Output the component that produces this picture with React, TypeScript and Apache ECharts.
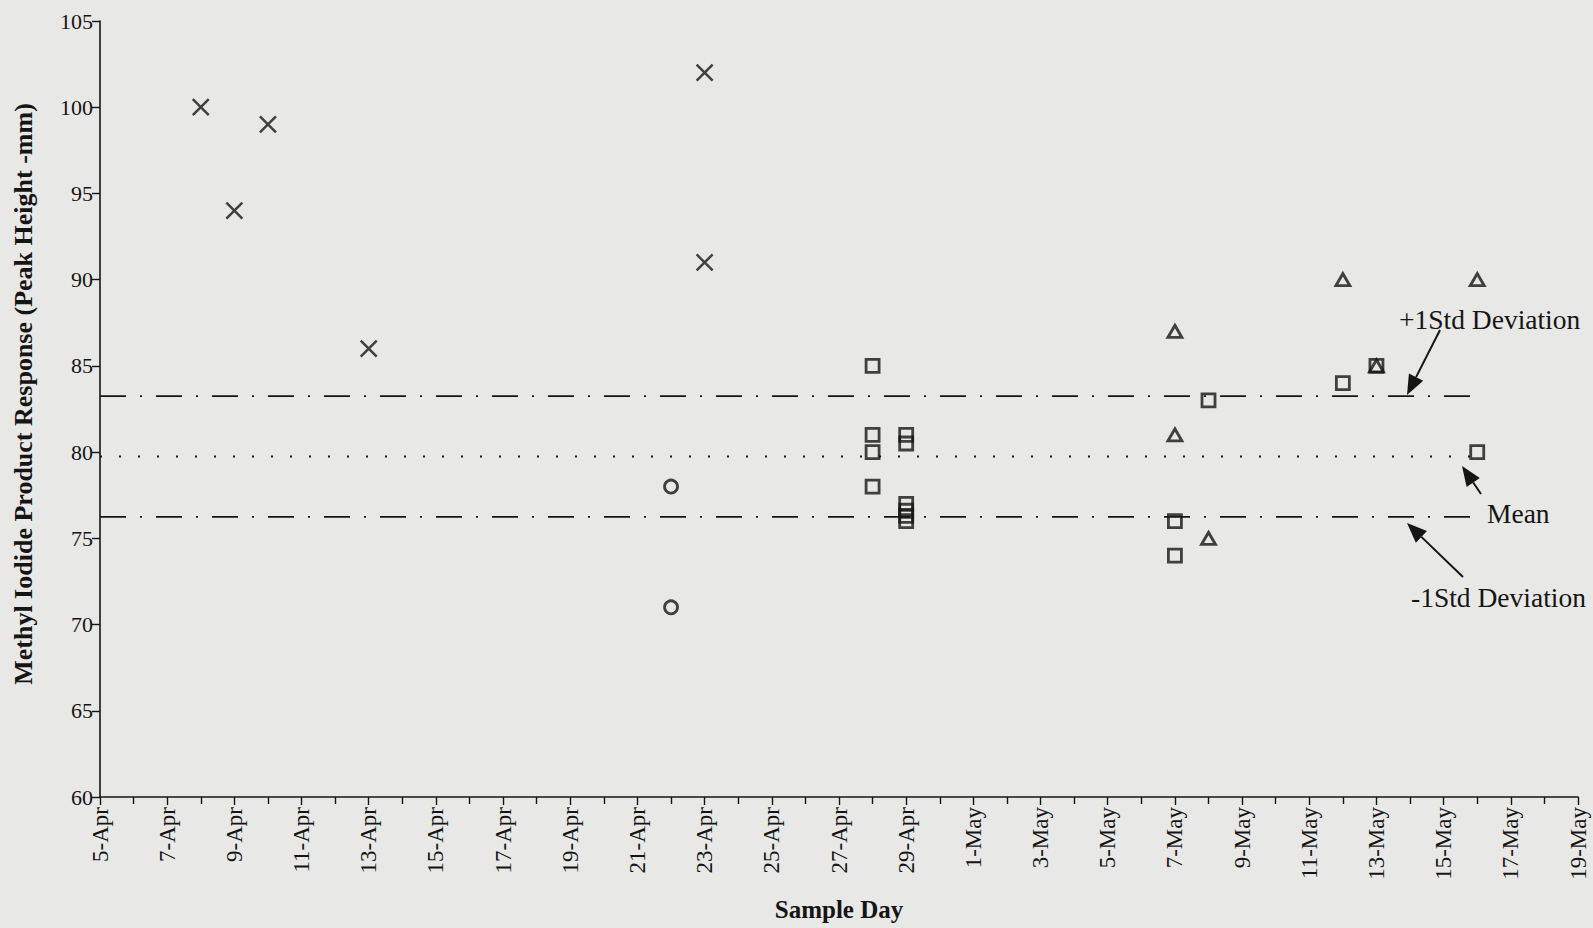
import React, { useEffect, useRef } from "react";
import * as echarts from "echarts";

// ---- Data ----
const xTickLabels = [
  "5-Apr", "7-Apr", "9-Apr", "11-Apr", "13-Apr", "15-Apr", "17-Apr", "19-Apr",
  "21-Apr", "23-Apr", "25-Apr", "27-Apr", "29-Apr", "1-May", "3-May", "5-May",
  "7-May", "9-May", "11-May", "13-May", "15-May", "17-May", "19-May",
];
const yMin = 60;
const yMax = 105;
const yStep = 5;

const crossDates = ["8-Apr", "9-Apr", "10-Apr", "13-Apr", "23-Apr", "23-Apr"];
const crossValues = [100, 94, 99, 86, 102, 91];

const circleDates = ["22-Apr", "22-Apr"];
const circleValues = [78, 71];

const squareDates = [
  "28-Apr", "28-Apr", "28-Apr", "28-Apr",
  "29-Apr", "29-Apr", "29-Apr", "29-Apr", "29-Apr", "29-Apr",
  "7-May", "7-May", "8-May", "12-May", "13-May", "16-May",
];
const squareValues = [85, 81, 80, 78, 81, 80.5, 77, 76.6, 76.3, 76, 76, 74, 83, 84, 85, 80];

const triangleDates = ["7-May", "7-May", "8-May", "12-May", "13-May", "16-May"];
const triangleValues = [87, 81, 75, 90, 85, 90];

const meanValue = 79.75;
const stdValue = 3.5;
const lineStart = "5-Apr";
const lineEnd = "16-May";

// ---- helpers ----
const dayOf = (s: string): number => {
  const [d, m] = s.split("-");
  const n = parseInt(d, 10);
  return m === "Apr" ? n - 5 : 26 + (n - 1);
};
const pts = (dates: string[], vals: number[]) => dates.map((d, i) => [dayOf(d), vals[i]]);

const INK = "#151515";
const FONT = "'Liberation Serif', 'Times New Roman', serif";

export default function App() {
  const ref = useRef<HTMLDivElement>(null);

  useEffect(() => {
    if (!ref.current) return;
    const chart = echarts.init(ref.current, undefined, { renderer: "svg" });

    const hLine = (y: number, dash: number[] | string, w: number) => ({
      type: "line",
      silent: true,
      symbol: "none",
      data: [[dayOf(lineStart), y], [dayOf(lineEnd), y]],
      lineStyle: { color: INK, width: w, type: dash },
      z: 1,
    });

    const markerStyle = { color: "rgba(0,0,0,0)", borderColor: INK, borderWidth: 2.8 };

    const arrow = (x1: number, y1: number, x2: number, y2: number) => {
      const ang = Math.atan2(y2 - y1, x2 - x1);
      const L = 20, W = 8;
      const bx = x2 - L * Math.cos(ang), by = y2 - L * Math.sin(ang);
      const px = -Math.sin(ang) * W, py = Math.cos(ang) * W;
      return [
        { type: "line", shape: { x1, y1, x2: bx, y2: by }, style: { stroke: INK, lineWidth: 2 } },
        {
          type: "polygon",
          shape: { points: [[x2, y2], [bx + px, by + py], [bx - px, by - py]] },
          style: { fill: INK },
        },
      ];
    };

    chart.setOption({
      animation: false,
      backgroundColor: "#e8e8e6",
      textStyle: { fontFamily: FONT, color: INK },
      grid: { left: 100, right: 15, top: 21, bottom: 131, containLabel: false, outerBoundsMode: "none" },
      xAxis: {
        type: "value",
        min: 0,
        max: 44,
        interval: 2,
        name: "Sample Day",
        nameLocation: "middle",
        nameGap: 100,
        nameTextStyle: { fontFamily: FONT, fontWeight: "bold", fontSize: 25, color: INK },
        axisLine: { show: true, lineStyle: { color: INK, width: 1.6 } },
        axisTick: { show: true, length: 8, lineStyle: { color: INK, width: 1.4 } },
        minorTick: { show: true, splitNumber: 2, length: 7, lineStyle: { color: INK, width: 1.4 } },
        splitLine: { show: false },
        axisLabel: {
          rotate: 90,
          margin: 10,
          fontFamily: FONT,
          fontSize: 23,
          color: INK,
          formatter: (v: number) => xTickLabels[Math.round(v / 2)] ?? "",
        },
      },
      yAxis: {
        type: "value",
        min: yMin,
        max: yMax,
        interval: yStep,
        name: "Methyl Iodide Product Response (Peak Height -mm)",
        nameLocation: "middle",
        nameGap: 64,
        nameTextStyle: { fontFamily: FONT, fontWeight: "bold", fontSize: 26, color: INK, padding: [0, 0, 0, 30] },
        axisLine: { show: true, lineStyle: { color: INK, width: 1.6 } },
        axisTick: { show: true, length: 8, lineStyle: { color: INK, width: 1.4 } },
        splitLine: { show: false },
        axisLabel: { fontFamily: FONT, fontSize: 22, color: INK, margin: 7 },
      },
      series: [
        hLine(meanValue + stdValue, [26, 14, 2, 14], 1.8),
        hLine(meanValue, [2, 17], 2),
        hLine(meanValue - stdValue, [26, 14, 2, 14], 1.8),
        {
          type: "scatter",
          silent: true,
          symbol: "path://M0,0L10,10M10,0L0,10",
          symbolSize: 16,
          data: pts(crossDates, crossValues),
          itemStyle: { ...markerStyle, borderWidth: 2.5 },
          z: 3,
        },
        {
          type: "scatter",
          silent: true,
          symbol: "circle",
          symbolSize: 13,
          data: pts(circleDates, circleValues),
          itemStyle: markerStyle,
          z: 3,
        },
        {
          type: "scatter",
          silent: true,
          symbol: "rect",
          symbolSize: 13,
          data: pts(squareDates, squareValues),
          itemStyle: markerStyle,
          z: 3,
        },
        {
          type: "scatter",
          silent: true,
          symbol: "triangle",
          symbolSize: [14, 12],
          data: pts(triangleDates, triangleValues),
          itemStyle: markerStyle,
          z: 4,
        },
      ],
      graphic: [
        ...arrow(1440, 330, 1407, 395),
        ...arrow(1481, 494, 1462, 466),
        ...arrow(1463, 577, 1407, 523),
        {
          type: "text",
          left: 1399,
          top: 305,
          style: { text: "+1Std Deviation", font: `27.5px ${FONT}`, fill: INK },
        },
        {
          type: "text",
          left: 1487,
          top: 499,
          style: { text: "Mean", font: `27.5px ${FONT}`, fill: INK },
        },
        {
          type: "text",
          left: 1411,
          top: 583,
          style: { text: "-1Std Deviation", font: `27.5px ${FONT}`, fill: INK },
        },
      ],
    });

    return () => chart.dispose();
  }, []);

  return (
    <div
      ref={ref}
      style={{ position: "fixed", left: 0, top: 0, width: 1593, height: 928 }}
    />
  );
}
